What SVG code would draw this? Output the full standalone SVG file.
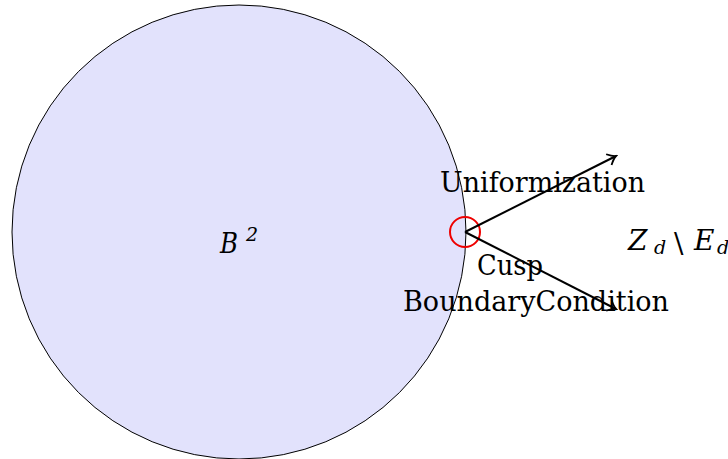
<svg xmlns="http://www.w3.org/2000/svg" width="728" height="459" viewBox="0 0 728 459">
<style>
.t{font-family:"DejaVu Serif","Liberation Serif",serif;font-size:28px;fill:#000}
.m{font-family:"DejaVu Serif","Liberation Serif",serif;font-style:italic;font-size:28px;fill:#000}
.s{font-size:19px}
.c{stroke:#000;stroke-width:2;fill:none}
</style>
<defs>
<marker id="ah" viewBox="-10 -7 12 14" markerWidth="12" markerHeight="14" refX="0" refY="0" orient="auto" markerUnits="userSpaceOnUse">
<path d="M-8,-6 Q-3,-1 0,0 Q-3,1 -8,6" fill="none" stroke="#000" stroke-width="1.8"/>
</marker>
</defs>
<g id="disk">
<circle cx="239" cy="232" r="227" fill="#e2e2fc" stroke="#000" stroke-width="1"/>
<text class="m" x="220" y="253" textLength="18" lengthAdjust="spacingAndGlyphs">B</text>
<text class="m s" x="246" y="241" font-style="normal">2</text>
</g>
<g id="cusp">
<circle cx="465" cy="232" r="15" fill="none" stroke="#ee0000" stroke-width="2"/>
</g>
<g id="connectors">
<line class="c" x1="465" y1="232" x2="616" y2="156" marker-end="url(#ah)"/>
<line class="c" x1="465" y1="232" x2="616" y2="309" marker-end="url(#ah)"/>
</g>
<g id="labels">
<text class="t" x="440" y="192" textLength="205" lengthAdjust="spacingAndGlyphs">Uniformization</text>
<text class="t" x="477" y="275" textLength="66" lengthAdjust="spacingAndGlyphs">Cusp</text>
<text class="t" x="403" y="311" textLength="266" lengthAdjust="spacingAndGlyphs">BoundaryCondition</text>
</g>
<g id="target">
<text class="m" x="628" y="250">Z</text>
<text class="m s" x="654" y="254">d</text>
<text class="t" x="674" y="253" font-size="33px">\</text>
<text class="m" x="694" y="250">E</text>
<text class="m s" x="717" y="254">d</text>
</g>
</svg>
